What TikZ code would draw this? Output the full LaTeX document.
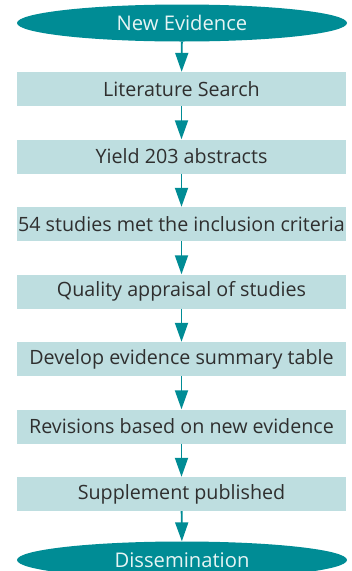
\documentclass[tikz,border=0pt]{standalone}
\usepackage{fontspec}
\setmainfont{Open Sans}
\usepackage{tikz}
\usetikzlibrary{shapes, arrows.meta, positioning}
\definecolor{tealdark}{HTML}{008C95}
\definecolor{tealpale}{HTML}{BEDEE0}
\definecolor{inkgray}{HTML}{2F2F2F}
\definecolor{paletext}{HTML}{E6F4F4}
\tikzstyle{enode} = [ellipse, fill=tealdark, text=paletext, minimum width=330pt, minimum height=37pt, inner sep=0pt, font=\fontsize{20.2}{23}\selectfont]
\tikzstyle{bnode} = [rectangle, fill=tealpale, text=inkgray, minimum width=329pt, minimum height=34pt, inner sep=0pt, font=\fontsize{19.7}{23}\selectfont]
\tikzstyle{line} = [draw, tealdark, line width=1.8pt, -{Triangle[width=13pt, length=19pt]}]

\begin{document}
\begin{tikzpicture}[x=1pt, y=-1pt]
			\useasboundingbox (0,0) rectangle (352,571);
			\node [enode] (new) at (182, 23) {New Evidence};
			\node [bnode] (search) at (181.5, 89) {Literature Search};
			\node [bnode] (yield) at (181.5, 156.5) {Yield 203 abstracts};
			\node [bnode] (met) at (181.5, 224) {54 studies met the inclusion criteria};
			\node [bnode] (quality) at (181.5, 291.5) {Quality appraisal of studies};
			\node [bnode] (table) at (181.5, 359) {Develop evidence summary table};
			\node [bnode] (revise) at (181.5, 426.5) {Revisions based on new evidence};
			\node [bnode] (supp) at (181.5, 494) {Supplement published};
			\node [enode] (dissem) at (182, 560) {Dissemination};
			
			\path [line] (new) -- (search);
			\path [line] (search) -- (yield);
			\path [line] (yield) -- (met);
			\path [line] (met) -- (quality);
			\path [line] (quality) -- (table);
			\path [line] (table) -- (revise);
			\path [line] (revise) -- (supp);
			\path [line] (supp) -- (dissem);
		\end{tikzpicture}
\end{document}
